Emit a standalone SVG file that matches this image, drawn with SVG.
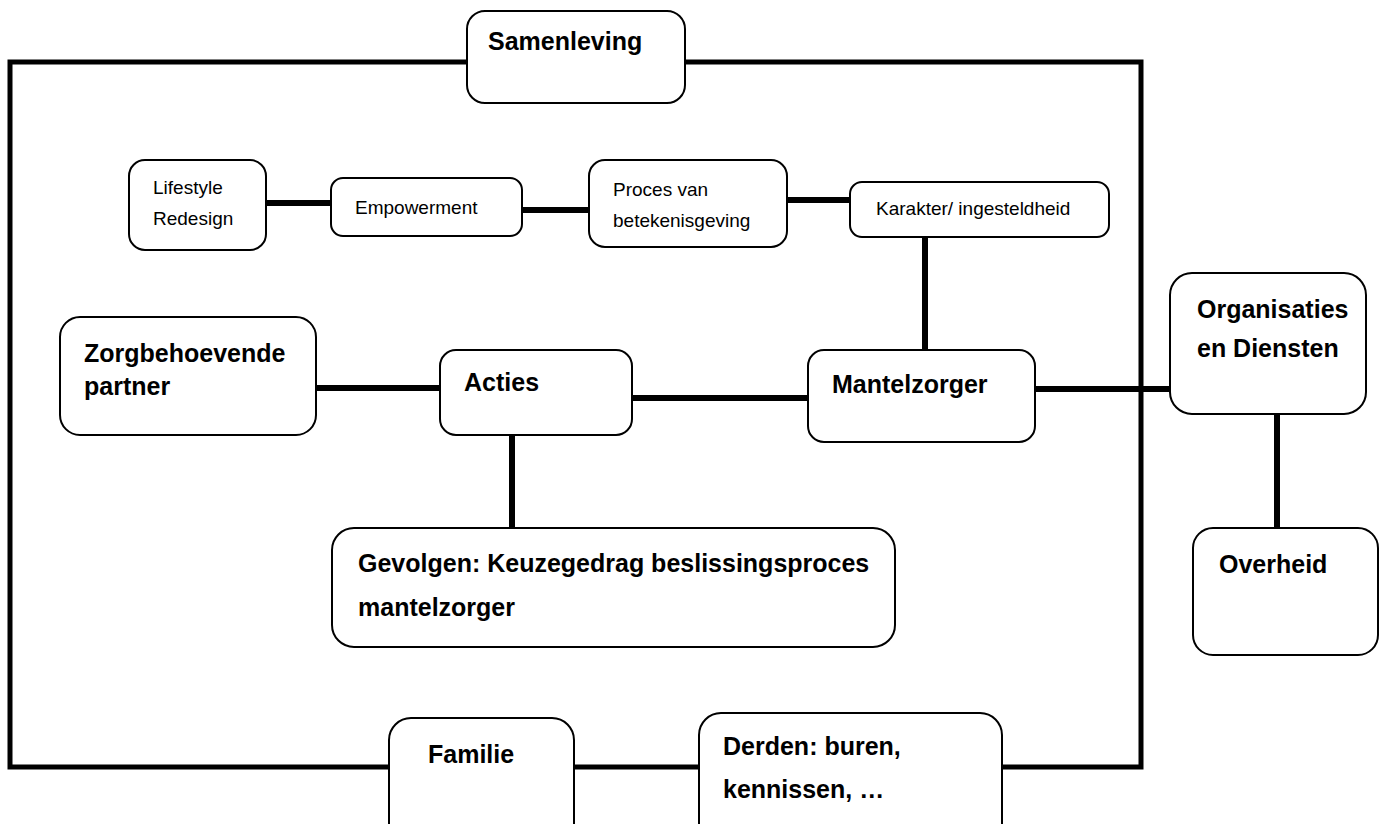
<svg xmlns="http://www.w3.org/2000/svg" width="1384" height="824" viewBox="0 0 1384 824">
<style>
.box{fill:#fff;stroke:#000;stroke-width:2}
.ln{stroke:#000;stroke-width:6;fill:none}
.frame{stroke:#000;stroke-width:5;fill:none}
.b{font-family:"Liberation Sans",Arial,sans-serif;font-weight:bold;font-size:25px;fill:#000}
.r{font-family:"Liberation Sans",Arial,sans-serif;font-size:19px;fill:#000}
</style>
<rect width="1384" height="824" fill="#fff"/>
<g id="connectors">
<path class="frame" d="M10,767 L10,62 L1141,62 L1141,767 Z"/>
<line class="ln" x1="265" y1="203" x2="331" y2="203"/>
<line class="ln" x1="522" y1="210" x2="589" y2="210"/>
<line class="ln" x1="786" y1="200" x2="850" y2="200"/>
<line class="ln" x1="925" y1="236" x2="925" y2="350"/>
<line class="ln" x1="315" y1="388" x2="440" y2="388"/>
<line class="ln" x1="632" y1="398" x2="808" y2="398"/>
<line class="ln" x1="1035" y1="389" x2="1170" y2="389"/>
<line class="ln" x1="512" y1="434" x2="512" y2="528"/>
<line class="ln" x1="1277" y1="414" x2="1277" y2="528"/>
</g>
<g id="samenleving"><rect class="box" x="467" y="11" width="218" height="92" rx="18"/><text class="b" x="488" y="50">Samenleving</text></g>
<g id="lifestyle"><rect class="box" x="129" y="160" width="137" height="90" rx="16"/><text class="r" x="153" y="194">Lifestyle</text><text class="r" x="153" y="225">Redesign</text></g>
<g id="empowerment"><rect class="box" x="331" y="178" width="191" height="58" rx="12"/><text class="r" x="355" y="214">Empowerment</text></g>
<g id="proces"><rect class="box" x="589" y="160" width="198" height="87" rx="16"/><text class="r" x="613" y="196">Proces van</text><text class="r" x="613" y="227">betekenisgeving</text></g>
<g id="karakter"><rect class="box" x="850" y="182" width="259" height="55" rx="12"/><text class="r" x="876" y="215">Karakter/ ingesteldheid</text></g>
<g id="zorgbehoevende"><rect class="box" x="60" y="317" width="256" height="118" rx="20"/><text class="b" x="84" y="362">Zorgbehoevende</text><text class="b" x="84" y="395">partner</text></g>
<g id="acties"><rect class="box" x="440" y="350" width="192" height="85" rx="16"/><text class="b" x="464" y="391">Acties</text></g>
<g id="mantelzorger"><rect class="box" x="808" y="350" width="227" height="92" rx="16"/><text class="b" x="832" y="393">Mantelzorger</text></g>
<g id="organisaties"><rect class="box" x="1170" y="273" width="196" height="141" rx="22"/><text class="b" x="1197" y="318">Organisaties</text><text class="b" x="1197" y="357">en Diensten</text></g>
<g id="overheid"><rect class="box" x="1193" y="528" width="185" height="127" rx="20"/><text class="b" x="1219" y="573">Overheid</text></g>
<g id="gevolgen"><rect class="box" x="332" y="528" width="563" height="119" rx="22"/><text class="b" x="358" y="572">Gevolgen: Keuzegedrag beslissingsproces</text><text class="b" x="358" y="616">mantelzorger</text></g>
<g id="familie"><rect class="box" x="389" y="718" width="185" height="130" rx="22"/><text class="b" x="428" y="763">Familie</text></g>
<g id="derden"><rect class="box" x="699" y="713" width="303" height="135" rx="22"/><text class="b" x="723" y="755">Derden: buren,</text><text class="b" x="723" y="798">kennissen, …</text></g>
</svg>
